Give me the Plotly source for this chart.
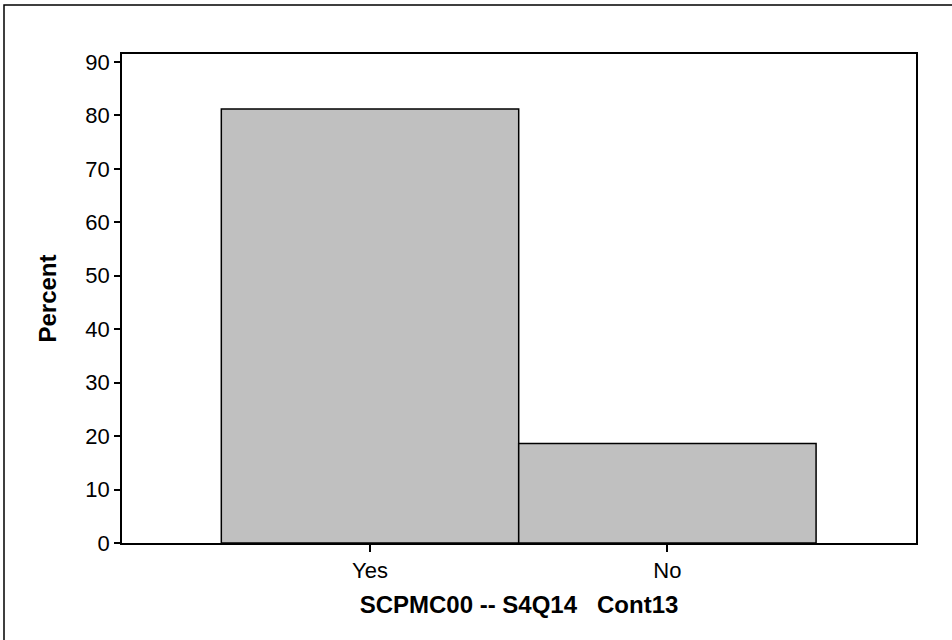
import plotly.graph_objects as go

categories = ["Yes", "No"]
percent = [81.2, 18.6]
y_ticks = [0, 10, 20, 30, 40, 50, 60, 70, 80, 90]

W, H = 952, 640
L, R, T, B = 122, 36, 54, 97
pw, ph = W - L - R, H - T - B

def px_x(x):
    return (x - L) / pw

def px_y(y):
    return (H - B - y) / ph

xpos = list(range(len(categories)))

fig = go.Figure(go.Bar(
    x=xpos, y=percent, width=1,
    marker=dict(color="#c0c0c0", line=dict(color="black", width=1.5)),
))

font = dict(family="Liberation Sans, Arial, sans-serif", color="black")

fig.update_layout(
    width=W, height=H,
    margin=dict(l=L, r=R, t=T, b=B),
    paper_bgcolor="white", plot_bgcolor="white",
    showlegend=False,
    font=font,
    xaxis=dict(
        range=[-0.834, 1.836], tickvals=xpos, ticktext=categories,
        ticks="outside", ticklen=7, tickcolor="black", tickwidth=1.5,
        showgrid=False, zeroline=False,
        showline=True, mirror=True, linecolor="black", linewidth=1.5,
        tickfont=dict(size=22, **font),
        title=dict(text="<b>SCPMC00 -- S4Q14\u00a0\u00a0\u00a0Cont13</b>",
                   font=dict(size=24, **font), standoff=14),
    ),
    yaxis=dict(
        range=[0, 91.5], tickvals=y_ticks,
        ticks="outside", ticklen=6, tickcolor="black", tickwidth=1.5,
        showgrid=False, zeroline=False,
        showline=True, mirror=True, linecolor="black", linewidth=1.5,
        tickfont=dict(size=22, **font),
        title=dict(text="<b>Percent</b>", font=dict(size=24, **font), standoff=22),
    ),
    shapes=[dict(type="rect", xref="paper", yref="paper",
                 x0=px_x(4), x1=px_x(980), y0=px_y(680), y1=px_y(5),
                 line=dict(color="black", width=1.5), layer="above")],
)

fig.write_html(
    "out.html",
    config={"displayModeBar": False},
    post_script="document.body.style.margin='0';document.body.style.overflow='hidden';",
)
